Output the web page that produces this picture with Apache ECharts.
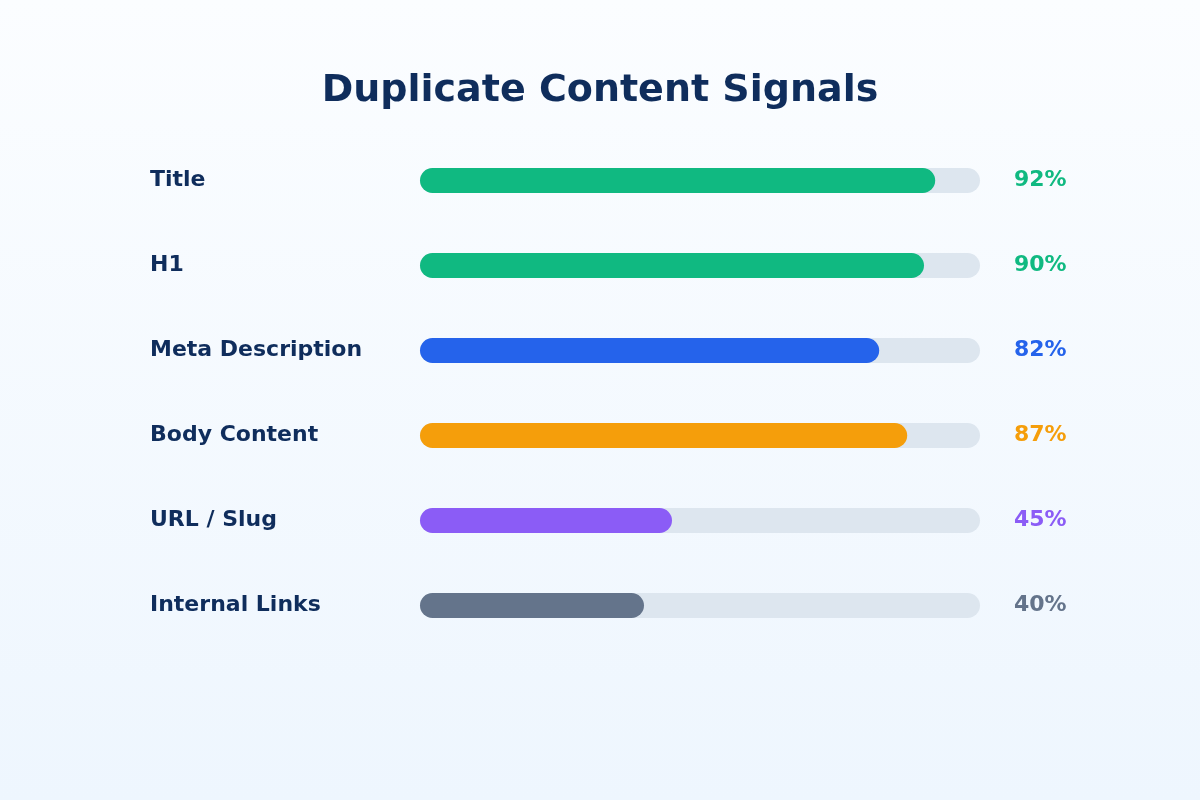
<!DOCTYPE html>
<html>
<head>
<meta charset="utf-8">
<script src="https://cdn.jsdelivr.net/npm/echarts@6/dist/echarts.min.js"></script>
<style>
html,body{margin:0;padding:0;width:1200px;height:800px;overflow:hidden;}
#chart{width:1200px;height:800px;}
</style>
</head>
<body>
<div id="chart"></div>
<script>
const categories = ["Title", "H1", "Meta Description", "Body Content", "URL / Slug", "Internal Links"];
const values = [92, 90, 82, 87, 45, 40];
const colors = ["#10b981", "#10b981", "#2563eb", "#f59e0b", "#8b5cf6", "#64748b"];
const trackMax = 100;

const chart = echarts.init(document.getElementById('chart'));
const font = '"DejaVu Sans", sans-serif';
const option = {
  backgroundColor: {
    type: 'linear', x: 0, y: 0, x2: 0, y2: 1,
    colorStops: [{offset: 0, color: '#fbfdff'}, {offset: 1, color: '#eef6fe'}]
  },
  title: {
    text: 'Duplicate Content Signals',
    left: 'center', top: 67,
    textStyle: {fontFamily: font, fontSize: 38, fontWeight: 'bold', color: '#0f2d5c'}
  },
  grid: {left: 420, right: 220, top: 138, bottom: 152, containLabel: false},
  xAxis: {type: 'value', min: 0, max: trackMax, show: false},
  yAxis: {
    type: 'category', data: categories, inverse: true,
    axisLine: {show: false}, axisTick: {show: false}, splitLine: {show: false},
    axisLabel: {
      align: 'left', margin: 270,
      fontFamily: font, fontSize: 22, fontWeight: 'bold', color: '#0f2d5c'
    }
  },
  series: [
    {
      type: 'bar', barWidth: 25, silent: true, z: 1,
      data: values.map((v, i) => ({
        value: trackMax,
        label: {formatter: v + '%', color: colors[i]}
      })),
      itemStyle: {color: '#dde6ef', borderRadius: 12.5},
      label: {
        show: true, position: 'right', distance: 34,
        fontFamily: font, fontSize: 22, fontWeight: 'bold'
      }
    },
    {
      type: 'bar', barWidth: 25, barGap: '-100%', z: 2,
      data: values.map((v, i) => ({value: v, itemStyle: {color: colors[i]}})),
      itemStyle: {borderRadius: 12.5}
    }
  ],
  animation: false
};
chart.setOption(option);
</script>
</body>
</html>
